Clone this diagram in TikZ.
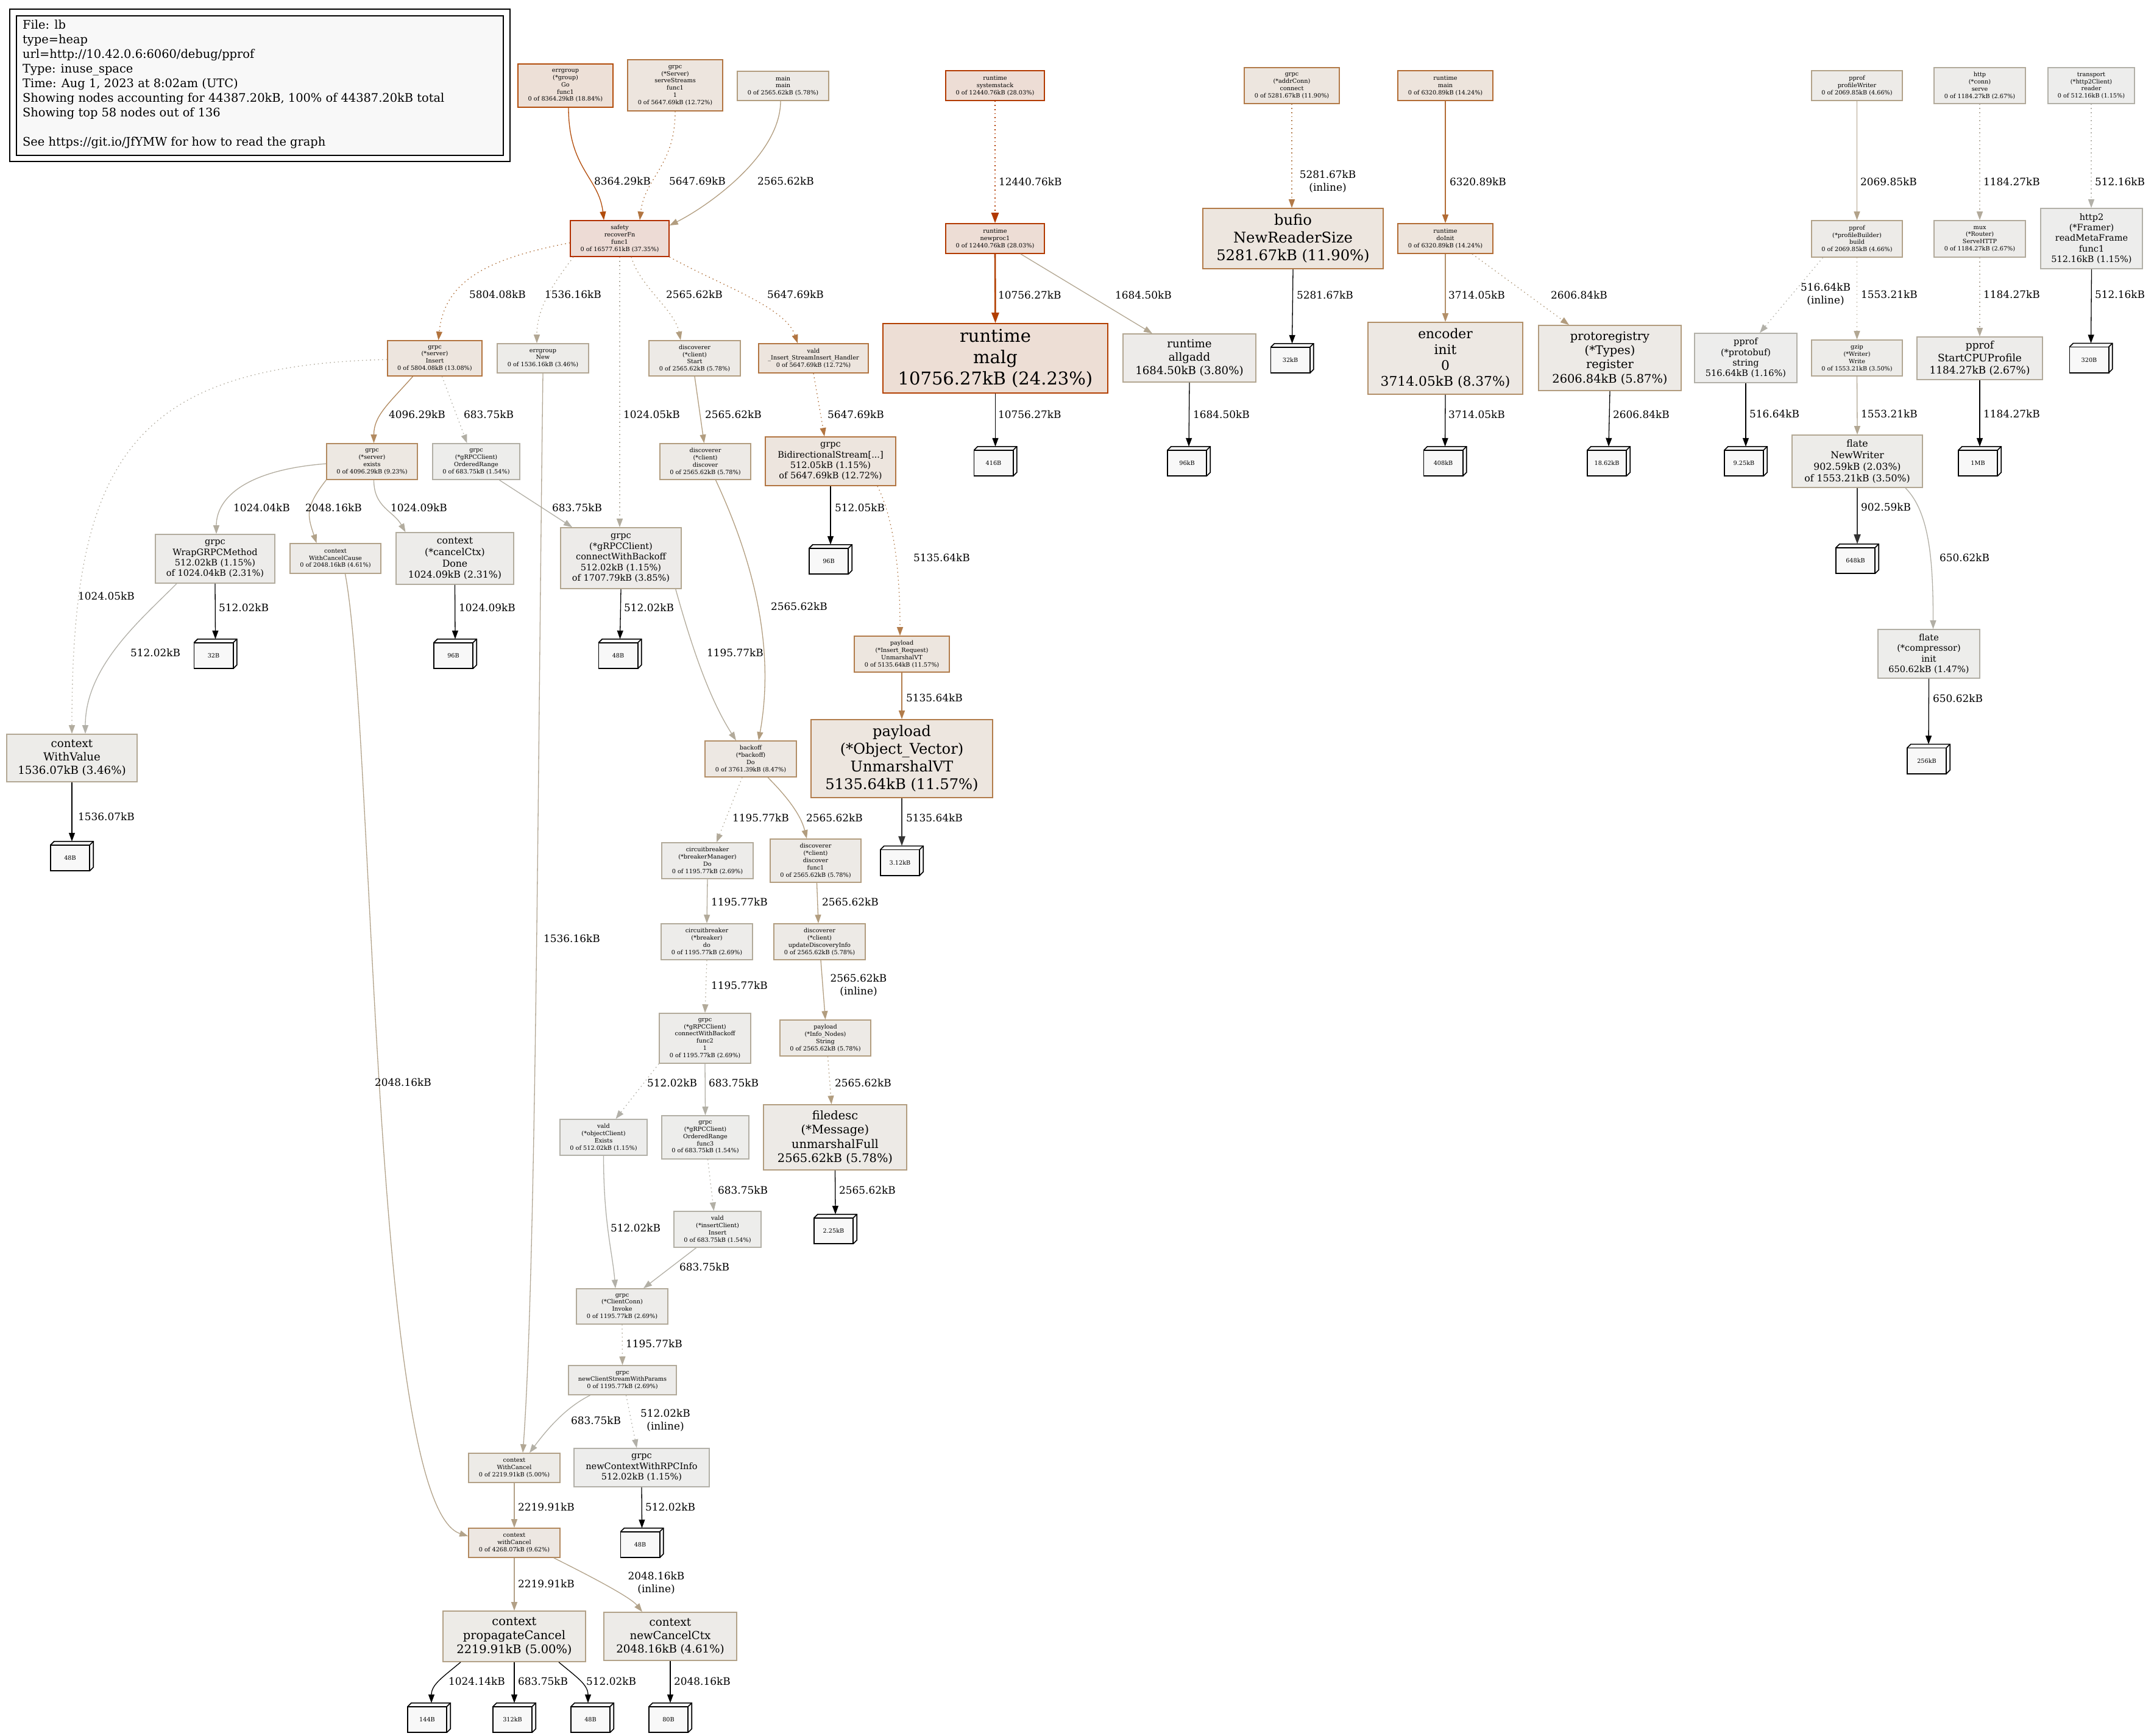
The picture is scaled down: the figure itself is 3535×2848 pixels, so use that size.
\documentclass[tikz,border=0pt]{standalone}
\usepackage{fontspec}
\setmainfont{DejaVu Serif}
\usetikzlibrary{arrows.meta}
\definecolor{leafF}{HTML}{F8F8F8}
\makeatletter
\newcommand\pprofcol[4]{%
  \pgfmathsetmacro\pp@s{min(1,#2/44.3872)}%
  \pgfmathsetmacro\pp@sat{\pp@s<0.2 ? #3*\pp@s/0.2 : #3}%
  \pgfmathsetmacro\pp@p{\pp@s^0.3}%
  \pgfmathsetmacro\pp@g{#4*(1-\pp@sat*\pp@p)}%
  \pgfmathsetmacro\pp@b{#4*(1-\pp@sat)}%
  \edef\pp@tmp{\noexpand\definecolor{#1}{rgb}{#4,\pp@g,\pp@b}}\pp@tmp
}
\makeatother
\newcommand\FsA{\fontsize{9.7pt}{11.8pt}\selectfont}
\newcommand\FsL{\fontsize{14.5pt}{17.4pt}\selectfont}
\newcommand\FsM{\fontsize{15.7pt}{18.9pt}\selectfont}
\newcommand\FsN{\fontsize{16.9pt}{20.3pt}\selectfont}
\newcommand\FsO{\fontsize{18.2pt}{21.8pt}\selectfont}
\newcommand\FsP{\fontsize{19.4pt}{23.3pt}\selectfont}
\newcommand\FsQ{\fontsize{21.8pt}{26.2pt}\selectfont}
\newcommand\FsR{\fontsize{24.2pt}{29pt}\selectfont}
\newcommand\FsS{\fontsize{29pt}{34.8pt}\selectfont}
\newcommand\FsE{\fontsize{16.9pt}{20.5pt}\selectfont}
\newcommand\FsG{\fontsize{19.4pt}{24pt}\selectfont}
\newcommand\pprofnode[7]{\node[pbox,ncol=#5,minimum width=#3pt,minimum height=#4pt,font=#6] (#1) at (#2) {#7};}
\newcommand\pprofleaf[3]{%
  \node[leafout] (#1) at (#2) {};
  \fill[leafF] ([yshift=-6pt]#1.north west) -- ([xshift=6pt]#1.north west) -- (#1.north east) -- ([yshift=6pt]#1.south east) -- ([xshift=-6pt]#1.south east) -- cycle;
  \draw[leafln] ([yshift=-6pt]#1.north west) -- ([xshift=6pt]#1.north west) -- (#1.north east) -- ([yshift=6pt]#1.south east) -- ([xshift=-6pt]#1.south east);
  \draw[leafln,fill=leafF] ([yshift=-6pt]#1.north west) rectangle ([xshift=-6pt]#1.south east);
  \draw[leafln] ([xshift=-6pt,yshift=-6pt]#1.north east) -- (#1.north east);
  \node[leaftxt] (#1t) at ([xshift=-3pt,yshift=-3pt]#1.center) {#3};
}
\begin{document}
\begin{tikzpicture}[x=1pt,y=-1pt,
  pbox/.style={rectangle,inner sep=0pt,align=center,line width=1.6pt},
  ncol/.code={\pprofcol{ncF}{#1}{0.1}{0.93}\pprofcol{ncD}{#1}{1.0}{0.7}\tikzset{fill=ncF,draw=ncD}},
  ecol/.code={\pprofcol{ecD}{#1}{1.0}{0.7}\tikzset{draw=ecD}},
  edg/.style={line width=1.3pt,-{Triangle[length=14pt,width=10pt]}},
  edgh/.style={line width=2.6pt,-{Triangle[length=17pt,width=12pt]}},
  resid/.style={dash pattern=on 1.6pt off 5pt},
  tagedge/.style={edg,draw=black},
  tagthick/.style={line width=2.4pt,draw=black!80,-{Triangle[length=16pt,width=11pt]}},
  elab/.style={font=\FsE,anchor=west,inner sep=0pt},
  elabc/.style={font=\FsE,align=center,inner sep=0pt},
  leafout/.style={minimum width=70pt,minimum height=48pt,inner sep=0pt},
  leafln/.style={line width=1.6pt,draw=black},
  leaftxt/.style={font=\FsA,inner sep=0pt}]
\useasboundingbox (0,0) rectangle (3535,2848);
\fill[white] (0,0) rectangle (3535,2848);

% legend
\node[draw=black,line width=1.6pt,minimum width=821pt,minimum height=250pt,inner sep=0pt] (legframe) at (426.5,140) {};
\node[draw=black,fill=leafF,line width=1.6pt,minimum width=799pt,minimum height=229pt,inner sep=0pt] (legbox) at (426.5,140.5) {};
\node[font=\FsG,align=left,anchor=north west,inner sep=0pt] (legtext) at (37,33) {File: lb\\type=heap\\url=http://10.42.0.6:6060/debug/pprof\\Type: inuse\_space\\Time: Aug 1, 2023 at 8:02am (UTC)\\Showing nodes accounting for 44387.20kB, 100\% of 44387.20kB total\\Showing top 58 nodes out of 136\\[24pt]See https://git.io/JfYMW for how to read the graph};

% top row
\pprofnode{errgo}{928,140.5}{156}{71}{8.36429}{\FsA}{errgroup\\(*group)\\Go\\func1\\0 of 8364.29kB (18.84\%)}
\pprofnode{servst}{1108,140}{156}{84}{5.64769}{\FsA}{grpc\\(*Server)\\serveStreams\\func1\\1\\0 of 5647.69kB (12.72\%)}
\pprofnode{mainmain}{1285,141}{150}{48}{2.56562}{\FsA}{main\\main\\0 of 2565.62kB (5.78\%)}
\pprofnode{sysstack}{1633,140.5}{162}{49}{12.44076}{\FsA}{runtime\\systemstack\\0 of 12440.76kB (28.03\%)}
\pprofnode{addrconn}{2120,140.5}{156}{59}{5.28167}{\FsA}{grpc\\(*addrConn)\\connect\\0 of 5281.67kB (11.90\%)}
\pprofnode{rtmain}{2372,140.5}{156}{49}{6.32089}{\FsA}{runtime\\main\\0 of 6320.89kB (14.24\%)}
\pprofnode{profwr}{3047.5,140.5}{149}{49}{2.06985}{\FsA}{pprof\\profileWriter\\0 of 2069.85kB (4.66\%)}
\pprofnode{httpserve}{3249,140.5}{150}{59}{1.18427}{\FsA}{http\\(*conn)\\serve\\0 of 1184.27kB (2.67\%)}
\pprofnode{hreader}{3432,140.5}{142}{59}{0.51216}{\FsA}{transport\\(*http2Client)\\reader\\0 of 512.16kB (1.15\%)}

% row 2
\pprofnode{safety}{1017,391.5}{162}{59}{16.57761}{\FsA}{safety\\recoverFn\\func1\\0 of 16577.61kB (37.35\%)}
\pprofnode{newproc}{1633,391.5}{162}{49}{12.44076}{\FsA}{runtime\\newproc1\\0 of 12440.76kB (28.03\%)}
\pprofnode{bufio}{2122,391.5}{296}{99}{5.28167}{\FsR}{bufio\\NewReaderSize\\5281.67kB (11.90\%)}
\pprofnode{doinit}{2372,391.5}{156}{49}{6.32089}{\FsA}{runtime\\doInit\\0 of 6320.89kB (14.24\%)}
\pprofnode{pbuild}{3047.5,392}{149}{60}{2.06985}{\FsA}{pprof\\(*profileBuilder)\\build\\0 of 2069.85kB (4.66\%)}
\pprofnode{muxhttp}{3249,392}{150}{60}{1.18427}{\FsA}{mux\\(*Router)\\ServeHTTP\\0 of 1184.27kB (2.67\%)}
\pprofnode{metaframe}{3432.5,391.5}{167}{99}{0.51216}{\FsL}{http2\\(*Framer)\\readMetaFrame\\func1\\512.16kB (1.15\%)}

% row 3
\pprofnode{srvinsert}{713.5,588}{155}{58}{5.80408}{\FsA}{grpc\\(*server)\\Insert\\0 of 5804.08kB (13.08\%)}
\pprofnode{egnew}{891,588}{150}{48}{1.53616}{\FsA}{errgroup\\New\\0 of 1536.16kB (3.46\%)}
\pprofnode{dstart}{1140,588}{150}{58}{2.56562}{\FsA}{discoverer\\(*client)\\Start\\0 of 2565.62kB (5.78\%)}
\pprofnode{valdh}{1335,588}{180}{48}{5.64769}{\FsA}{vald\\\_Insert\_StreamInsert\_Handler\\0 of 5647.69kB (12.72\%)}
\pprofnode{malg}{1633.5,588}{369}{114}{10.75627}{\FsS}{runtime\\malg\\10756.27kB (24.23\%)}
\pprofnode{allgadd}{1952,587.5}{218}{79}{1.68450}{\FsO}{runtime\\allgadd\\1684.50kB (3.80\%)}
\pprofnode{encinit}{2372,588}{254}{118}{3.71405}{\FsQ}{encoder\\init\\0\\3714.05kB (8.37\%)}
\pprofnode{protoreg}{2642,587.5}{234}{107}{2.60684}{\FsP}{protoregistry\\(*Types)\\register\\2606.84kB (5.87\%)}
\pprofnode{pbstring}{2865,587.5}{168}{81}{0.51664}{\FsL}{pprof\\(*protobuf)\\string\\516.64kB (1.16\%)}
\pprofnode{gzipw}{3047.5,587.5}{149}{59}{1.55321}{\FsA}{gzip\\(*Writer)\\Write\\0 of 1553.21kB (3.50\%)}
\pprofnode{startcpu}{3249,588}{206}{70}{1.18427}{\FsN}{pprof\\StartCPUProfile\\1184.27kB (2.67\%)}

% row 4
\pprofnode{exists}{610.5,757.5}{149}{59}{4.09629}{\FsA}{grpc\\(*server)\\exists\\0 of 4096.29kB (9.23\%)}
\pprofnode{gcorder}{781.5,757.5}{143}{59}{0.68375}{\FsA}{grpc\\(*gRPCClient)\\OrderedRange\\0 of 683.75kB (1.54\%)}
\pprofnode{ddisc}{1157.5,757.5}{149}{59}{2.56562}{\FsA}{discoverer\\(*client)\\discover\\0 of 2565.62kB (5.78\%)}
\pprofnode{bidi}{1363,757}{214}{80}{5.64769}{\FsL}{grpc\\BidirectionalStream[...]\\512.05kB (1.15\%)\\of 5647.69kB (12.72\%)}
\pprofnode{newwriter}{3048,757}{214}{86}{1.55321}{\FsM}{flate\\NewWriter\\902.59kB (2.03\%)\\of 1553.21kB (3.50\%)}

% row 5
\pprofnode{wrapgrpc}{353,917}{196}{80}{1.02404}{\FsL}{grpc\\WrapGRPCMethod\\512.02kB (1.15\%)\\of 1024.04kB (2.31\%)}
\pprofnode{wccause}{550.5,916.5}{149}{49}{2.04816}{\FsA}{context\\WithCancelCause\\0 of 2048.16kB (4.61\%)}
\pprofnode{ccdone}{746.5,916.5}{193}{85}{1.02409}{\FsM}{context\\(*cancelCtx)\\Done\\1024.09kB (2.31\%)}
\pprofnode{cwb}{1019,916}{198}{100}{1.70779}{\FsL}{grpc\\(*gRPCClient)\\connectWithBackoff\\512.02kB (1.15\%)\\of 1707.79kB (3.85\%)}
\pprofnode{compinit}{3165.5,1073}{167}{80}{0.65062}{\FsL}{flate\\(*compressor)\\init\\650.62kB (1.47\%)}

% lower part
\pprofnode{withvalue}{118,1244}{214}{78}{1.53607}{\FsO}{context\\WithValue\\1536.07kB (3.46\%)}
\pprofnode{insreq}{1480,1073.5}{156}{59}{5.13564}{\FsA}{payload\\(*Insert\_Request)\\UnmarshalVT\\0 of 5135.64kB (11.57\%)}
\pprofnode{objvec}{1480,1245}{298}{128}{5.13564}{\FsR}{payload\\(*Object\_Vector)\\UnmarshalVT\\5135.64kB (11.57\%)}
\pprofnode{backoff}{1232,1245.5}{150}{59}{3.76139}{\FsA}{backoff\\(*backoff)\\Do\\0 of 3761.39kB (8.47\%)}
\pprofnode{cbmgr}{1161,1412.5}{150}{59}{1.19577}{\FsA}{circuitbreaker\\(*breakerManager)\\Do\\0 of 1195.77kB (2.69\%)}
\pprofnode{dfunc}{1338.5,1412.5}{149}{71}{2.56562}{\FsA}{discoverer\\(*client)\\discover\\func1\\0 of 2565.62kB (5.78\%)}
\pprofnode{cbdo}{1160,1545.5}{150}{59}{1.19577}{\FsA}{circuitbreaker\\(*breaker)\\do\\0 of 1195.77kB (2.69\%)}
\pprofnode{updinfo}{1345,1545.5}{150}{59}{2.56562}{\FsA}{discoverer\\(*client)\\updateDiscoveryInfo\\0 of 2565.62kB (5.78\%)}
\pprofnode{cwbf}{1157,1704}{150}{82}{1.19577}{\FsA}{grpc\\(*gRPCClient)\\connectWithBackoff\\func2\\1\\0 of 1195.77kB (2.69\%)}
\pprofnode{infonodes}{1354.5,1703.5}{149}{59}{2.56562}{\FsA}{payload\\(*Info\_Nodes)\\String\\0 of 2565.62kB (5.78\%)}
\pprofnode{vexists}{990.5,1866.5}{143}{59}{0.51202}{\FsA}{vald\\(*objectClient)\\Exists\\0 of 512.02kB (1.15\%)}
\pprofnode{orfthree}{1157.5,1866.5}{143}{71}{0.68375}{\FsA}{grpc\\(*gRPCClient)\\OrderedRange\\func3\\0 of 683.75kB (1.54\%)}
\pprofnode{filedesc}{1370.5,1866.5}{235}{107}{2.56562}{\FsP}{filedesc\\(*Message)\\unmarshalFull\\2565.62kB (5.78\%)}
\pprofnode{insclient}{1177.5,2017.5}{143}{59}{0.68375}{\FsA}{vald\\(*insertClient)\\Insert\\0 of 683.75kB (1.54\%)}
\pprofnode{invoke}{1021,2144}{150}{58}{1.19577}{\FsA}{grpc\\(*ClientConn)\\Invoke\\0 of 1195.77kB (2.69\%)}
\pprofnode{ncswp}{1021.5,2265}{177}{48}{1.19577}{\FsA}{grpc\\newClientStreamWithParams\\0 of 1195.77kB (2.69\%)}
\pprofnode{wcancel}{844,2409}{150}{48}{2.21991}{\FsA}{context\\WithCancel\\0 of 2219.91kB (5.00\%)}
\pprofnode{ncwri}{1053,2408.5}{222}{63}{0.51202}{\FsL}{grpc\\newContextWithRPCInfo\\512.02kB (1.15\%)}
\pprofnode{withcancel}{844,2532}{150}{48}{4.26807}{\FsA}{context\\withCancel\\0 of 4268.07kB (9.62\%)}
\pprofnode{propcancel}{844,2685.5}{234}{83}{2.21991}{\FsP}{context\\propagateCancel\\2219.91kB (5.00\%)}
\pprofnode{newcctx}{1100,2685.5}{218}{79}{2.04816}{\FsO}{context\\newCancelCtx\\2048.16kB (4.61\%)}

% leaves
\pprofleaf{lfbufio}{2120.5,588}{32kB}
\pprofleaf{lfmeta}{3431.5,587.5}{320B}
\pprofleaf{lfmalg}{1633.5,757}{416B}
\pprofleaf{lfallg}{1951,757}{96kB}
\pprofleaf{lfenc}{2371.5,757}{408kB}
\pprofleaf{lfreg}{2640,757}{18.62kB}
\pprofleaf{lfpbs}{2865,757}{9.25kB}
\pprofleaf{lfcpu}{3249,757}{1MB}
\pprofleaf{lfnw}{3048,917}{648kB}
\pprofleaf{lfcomp}{3165,1245.5}{256kB}
\pprofleaf{lfwrap}{353.5,1073}{32B}
\pprofleaf{lfdone}{747,1073}{96B}
\pprofleaf{lfcwb}{1017.5,1073}{48B}
\pprofleaf{lfbidi}{1363,918}{96B}
\pprofleaf{lfwv}{118,1405}{48B}
\pprofleaf{lfobj}{1480,1412.5}{3.12kB}
\pprofleaf{lffd}{1371,2017}{2.25kB}
\pprofleaf{lfrpc}{1053.5,2532}{48B}
\pprofleaf{lfpa}{704,2819}{144B}
\pprofleaf{lfpb}{844,2819}{312kB}
\pprofleaf{lfpc}{972,2819}{48B}
\pprofleaf{lfnc}{1100,2819}{80B}

% edges, top
\draw[edg,ecol=8.36429] ([xshift=5pt]errgo.south) .. controls +(0,100) and +(-8,-70) .. ([xshift=-26pt]safety.north);
\draw[edg,resid,ecol=5.64769] (servst.south) .. controls +(0,90) and +(8,-70) .. ([xshift=33pt]safety.north);
\draw[edg,ecol=2.56562] ([xshift=-4pt]mainmain.south) .. controls +(0,90) and +(60,-30) .. ([yshift=21.5pt]safety.east);
\draw[edgh,resid,ecol=12.44076] (sysstack.south) -- (newproc.north);
\draw[edg,resid,ecol=5.28167] (addrconn.south) -- ([xshift=-2pt]bufio.north);
\draw[edg,ecol=6.32089] (rtmain.south) -- (doinit.north);
\draw[edg,ecol=2.06985] (profwr.south) -- (pbuild.north);
\draw[edg,resid,ecol=1.18427] (httpserve.south) -- (muxhttp.north);
\draw[edg,resid,ecol=0.51216] (hreader.south) -- ([xshift=-0.5pt]metaframe.north);

% from safety
\draw[edg,resid,ecol=5.80408] ([yshift=-7pt]safety.west) .. controls +(-130,25) and +(10,-100) .. ([xshift=6pt]srvinsert.north);
\draw[edg,resid,ecol=1.53616] ([xshift=-76pt]safety.south) .. controls +(-30,40) and +(0,-60) .. ([xshift=-10pt]egnew.north);
\draw[edg,resid,ecol=1.02405] (safety.south) -- ([xshift=-2pt]cwb.north);
\draw[edg,resid,ecol=2.56562] ([xshift=19pt]safety.south) .. controls +(15,50) and +(-10,-50) .. ([xshift=-23pt]dstart.north);
\draw[edg,resid,ecol=5.64769] (safety.south east) .. controls +(80,45) and +(-20,-60) .. ([xshift=-26pt]valdh.north);

% row 3 out
\draw[edg,ecol=4.09629] ([xshift=-36pt]srvinsert.south) .. controls +(-40,45) and +(0,-45) .. ([xshift=3pt]exists.north);
\draw[edg,resid,ecol=0.68375] ([xshift=12pt]srvinsert.south) -- ([xshift=-15pt]gcorder.north);
\draw[edg,resid,ecol=1.02405] ([yshift=-2pt]srvinsert.west) .. controls +(-420,10) and +(0,-450) .. (withvalue.north);
\draw[edg,ecol=2.56562] (dstart.south) -- ([xshift=-2pt]ddisc.north);
\draw[edg,resid,ecol=5.64769] (valdh.south) -- ([xshift=-10pt]bidi.north);
\draw[edgh,ecol=10.75627] (newproc.south) -- (malg.north);
\draw[edg,ecol=1.68450] ([xshift=42pt]newproc.south) -- ([xshift=-61pt]allgadd.north);
\draw[tagedge] (bufio.south) -- (lfbufio.north);
\draw[edg,ecol=3.71405] (doinit.south) -- (encinit.north);
\draw[edg,resid,ecol=2.60684] ([xshift=44pt]doinit.south) -- ([xshift=-67pt]protoreg.north);
\draw[edg,resid,ecol=0.51664] ([xshift=-56pt]pbuild.south) -- ([xshift=23pt]pbstring.north);
\draw[edg,resid,ecol=1.55321] (pbuild.south) -- (gzipw.north);
\draw[edg,resid,ecol=1.18427] (muxhttp.south) -- (startcpu.north);
\draw[tagedge] (metaframe.south) -- (lfmeta.north);

% row 3 to leaves
\draw[tagedge] (malg.south) -- (lfmalg.north);
\draw[tagedge] (allgadd.south) -- (lfallg.north);
\draw[tagedge] (encinit.south) -- (lfenc.north);
\draw[tagedge] (protoreg.south) -- (lfreg.north);
\draw[tagedge] (pbstring.south) -- (lfpbs.north);
\draw[edg,ecol=1.55321] (gzipw.south) -- (newwriter.north);
\draw[tagedge] (startcpu.south) -- (lfcpu.north);
\draw[tagthick] (newwriter.south) -- (lfnw.north);
\draw[edg,ecol=0.65062] ([xshift=79pt]newwriter.south) .. controls +(40,40) and +(0,-110) .. ([xshift=7pt]compinit.north);
\draw[tagedge] (compinit.south) -- (lfcomp.north);

% row 4 out
\draw[edg,ecol=1.02404] ([yshift=-3.5pt]exists.west) .. controls +(-130,10) and +(0,-60) .. ([xshift=2pt]wrapgrpc.north);
\draw[edg,ecol=2.04816] (exists.south west) .. controls +(-35,45) and +(-15,-45) .. ([xshift=-31pt]wccause.north);
\draw[edg,ecol=1.02409] ([xshift=3pt]exists.south) .. controls +(0,45) and +(-20,-35) .. ([xshift=-81pt]ccdone.north);
\draw[edg,ecol=0.68375] ([xshift=38pt]gcorder.south) -- ([xshift=-80pt]cwb.north);
\draw[tagedge] (wrapgrpc.south) -- (lfwrap.north);
\draw[tagedge] (ccdone.south) -- (lfdone.north);
\draw[tagedge] (cwb.south) -- (lfcwb.north);
\draw[edg,ecol=0.51202] ([xshift=-63pt]wrapgrpc.south) .. controls +(-60,60) and +(0,-110) .. ([xshift=22pt]withvalue.north);
\draw[tagedge] (withvalue.south) -- (lfwv.north);
\draw[tagedge] (bidi.south) -- (lfbidi.north);
\draw[edg,resid,ecol=5.13564] ([xshift=77pt]bidi.south) .. controls +(30,60) and +(0,-90) .. ([xshift=-3pt]insreq.north);
\draw[edg,ecol=1.19577] ([xshift=-10pt]cwb.south east) .. controls +(25,90) and +(-45,-70) .. ([xshift=-24pt]backoff.north);
\draw[edg,ecol=2.56562] ([xshift=17pt]ddisc.south) .. controls +(70,150) and +(25,-140) .. ([xshift=13pt]backoff.north);

% middle
\draw[edg,ecol=5.13564] (insreq.south) -- (objvec.north);
\draw[tagthick] (objvec.south) -- (lfobj.north);
\draw[edg,resid,ecol=1.19577] ([xshift=-14pt]backoff.south) -- ([xshift=15pt]cbmgr.north);
\draw[edg,ecol=2.56562] ([xshift=28pt]backoff.south) .. controls +(30,30) and +(-10,-40) .. ([xshift=-14.5pt]dfunc.north);
\draw[edg,ecol=1.19577] (cbmgr.south) -- (cbdo.north);
\draw[edg,ecol=2.56562] ([xshift=2pt]dfunc.south) -- ([xshift=-2pt]updinfo.north);
\draw[edg,resid,ecol=1.19577] (cbdo.south) -- (cwbf.north);
\draw[edg,ecol=2.56562] ([xshift=2pt]updinfo.south) -- (infonodes.north);
\draw[edg,resid,ecol=0.51202] (cwbf.south west) -- ([xshift=20pt]vexists.north);
\draw[edg,ecol=0.68375] (cwbf.south) -- (orfthree.north);
\draw[edg,resid,ecol=2.56562] ([xshift=4pt]infonodes.south) -- ([xshift=-6pt]filedesc.north);
\draw[tagedge] (filedesc.south) -- (lffd.north);
\draw[edg,resid,ecol=0.68375] ([xshift=4pt]orfthree.south) -- ([xshift=-6pt]insclient.north);
\draw[edg,ecol=0.51202] (vexists.south) .. controls +(0,110) and +(-5,-60) .. ([xshift=-11pt]invoke.north);
\draw[edg,ecol=0.68375] ([xshift=-35pt]insclient.south) -- ([xshift=35pt]invoke.north);
\draw[edg,resid,ecol=1.19577] (invoke.south) -- (ncswp.north);
\draw[edg,ecol=0.68375] ([xshift=-53pt]ncswp.south) .. controls +(-40,20) and +(30,-40) .. ([xshift=25pt]wcancel.north);
\draw[edg,resid,ecol=0.51202] ([xshift=6pt]ncswp.south) -- ([xshift=-8pt]ncwri.north);
\draw[edg,ecol=1.53616] (egnew.south) .. controls +(-8,600) and +(22,-300) .. ([xshift=14pt]wcancel.north);
\draw[edg,ecol=2.04816] ([xshift=16pt]wccause.south) .. controls +(48.5,259) and +(-159,-51) .. ([yshift=11pt]withcancel.west);
\draw[edg,ecol=2.21991] (wcancel.south) -- (withcancel.north);
\draw[tagedge] (ncwri.south) -- (lfrpc.north);
\draw[edg,ecol=2.21991] (withcancel.south) -- (propcancel.north);
\draw[edg,ecol=2.04816] ([xshift=65pt]withcancel.south) .. controls +(50,25) and +(-20,-25) .. ([xshift=-46pt]newcctx.north);
\draw[tagedge] ([xshift=-88pt]propcancel.south) .. controls +(-30,25) and +(0,-30) .. ([xshift=4pt]lfpa.north);
\draw[tagedge] (propcancel.south) -- (lfpb.north);
\draw[tagedge] ([xshift=73pt]propcancel.south) .. controls +(30,25) and +(0,-30) .. ([xshift=-7pt]lfpc.north);
\draw[tagedge] (newcctx.south) -- (lfnc.north);

% edge labels
\node[elab] (la1) at (975,297) {8364.29kB};
\node[elab] (la2) at (1098,297) {5647.69kB};
\node[elab] (la3) at (1243,297) {2565.62kB};
\node[elab] (la4) at (1639,298) {12440.76kB};
\node[elabc] (la5) at (2179,298) {5281.67kB\\(inline)};
\node[elab] (la6) at (2379,298) {6320.89kB};
\node[elab] (la7) at (3053,298) {2069.85kB};
\node[elab] (la8) at (3255,298) {1184.27kB};
\node[elab] (la9) at (3438,298) {512.16kB};
\node[elab] (lb1) at (770,483) {5804.08kB};
\node[elab] (lb2) at (894,483) {1536.16kB};
\node[elab] (lb3) at (1093,483) {2565.62kB};
\node[elab] (lb4) at (1259,483) {5647.69kB};
\node[elab] (lb5) at (1638,484) {10756.27kB};
\node[elab] (lb6) at (1830,484) {1684.50kB};
\node[elab] (lb7) at (2128,484) {5281.67kB};
\node[elab] (lb8) at (2377,484) {3714.05kB};
\node[elab] (lb9) at (2545,484) {2606.84kB};
\node[elabc] (lc1) at (2996,483) {516.64kB\\(inline)};
\node[elab] (lc2) at (3054,483) {1553.21kB};
\node[elab] (lc3) at (3255,483) {1184.27kB};
\node[elab] (lc4) at (3438,483) {512.16kB};
\node[elab] (ld1) at (638,680) {4096.29kB};
\node[elab] (ld2) at (761,680) {683.75kB};
\node[elab] (ld3) at (1023,680) {1024.05kB};
\node[elab] (ld4) at (1157,680) {2565.62kB};
\node[elab] (ld5) at (1358,680) {5647.69kB};
\node[elab] (ld6) at (1638,680) {10756.27kB};
\node[elab] (ld7) at (1958,680) {1684.50kB};
\node[elab] (ld8) at (2377,680) {3714.05kB};
\node[elab] (ld9) at (2647,680) {2606.84kB};
\node[elab] (le1) at (2871,679) {516.64kB};
\node[elab] (le2) at (3054,679) {1553.21kB};
\node[elab] (le3) at (3255,679) {1184.27kB};
\node[elab] (lf1) at (383,833) {1024.04kB};
\node[elab] (lf2) at (501,833) {2048.16kB};
\node[elab] (lf3) at (641,833) {1024.09kB};
\node[elab] (lf4) at (906,833) {683.75kB};
\node[elab] (lf5) at (1370,833) {512.05kB};
\node[elab] (lf6) at (3054,832) {902.59kB};
\node[elab] (lf7) at (3183,915) {650.62kB};
\node[elab] (lf8) at (1499,915) {5135.64kB};
\node[elab] (lg1) at (128,978) {1024.05kB};
\node[elab] (lg2) at (1265,995) {2565.62kB};
\node[elab] (lg3) at (359,997) {512.02kB};
\node[elab] (lg4) at (753,997) {1024.09kB};
\node[elab] (lg5) at (1024,997) {512.02kB};
\node[elab] (lg6) at (214,1071) {512.02kB};
\node[elab] (lg7) at (1160,1071) {1195.77kB};
\node[elab] (lg8) at (1487,1145) {5135.64kB};
\node[elab] (lg9) at (3172,1146) {650.62kB};
\node[elab] (lh1) at (128,1340) {1536.07kB};
\node[elab] (lh2) at (1202,1342) {1195.77kB};
\node[elab] (lh3) at (1323,1342) {2565.62kB};
\node[elab] (lh4) at (1487,1342) {5135.64kB};
\node[elab] (lh5) at (1167,1480) {1195.77kB};
\node[elab] (lh6) at (1349,1480) {2565.62kB};
\node[elabc] (lh7) at (1409,1617) {2565.62kB\\(inline)};
\node[elab] (lh8) at (1167,1617) {1195.77kB};
\node[elab] (li1) at (1062,1777) {512.02kB};
\node[elab] (li2) at (1163,1777) {683.75kB};
\node[elab] (li3) at (1370,1777) {2565.62kB};
\node[elab] (li4) at (615,1776) {2048.16kB};
\node[elab] (li5) at (892,1540) {1536.16kB};
\node[elab] (li6) at (1178,1953) {683.75kB};
\node[elab] (li7) at (1377,1953) {2565.62kB};
\node[elab] (li8) at (1002,2015) {512.02kB};
\node[elab] (li9) at (1115,2079) {683.75kB};
\node[elab] (lj1) at (1027,2205) {1195.77kB};
\node[elab] (lj2) at (937,2331) {683.75kB};
\node[elabc] (lj3) at (1092,2331) {512.02kB\\(inline)};
\node[elab] (lj4) at (850,2473) {2219.91kB};
\node[elab] (lj5) at (1059,2473) {512.02kB};
\node[elab] (lj6) at (850,2599) {2219.91kB};
\node[elabc] (lj7) at (1077,2598) {2048.16kB\\(inline)};
\node[elab] (lk1) at (736,2759) {1024.14kB};
\node[elab] (lk2) at (850,2759) {683.75kB};
\node[elab] (lk3) at (962,2759) {512.02kB};
\node[elab] (lk4) at (1106,2759) {2048.16kB};
\end{tikzpicture}
\end{document}
